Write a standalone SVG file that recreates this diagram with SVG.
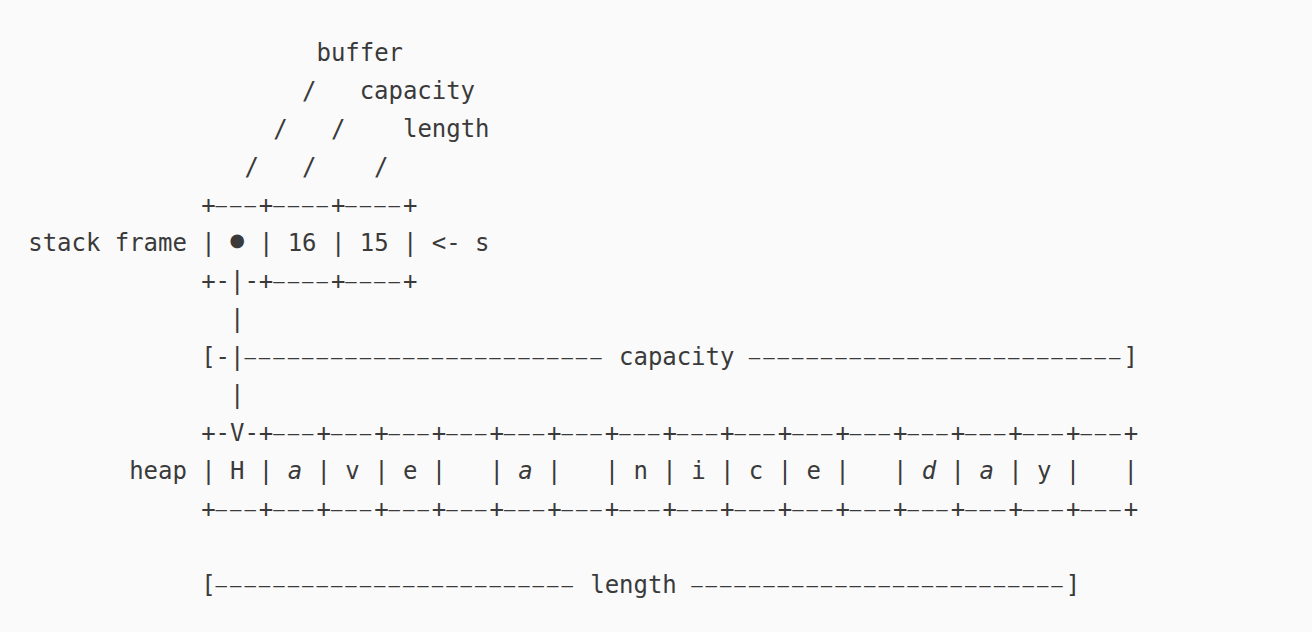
<svg xmlns="http://www.w3.org/2000/svg" width="1312" height="632" viewBox="0 0 1312 632" xml:space="preserve">
<style>
  text { font-family: "DejaVu Sans Mono", "Liberation Mono", monospace; font-size: 24px; letter-spacing: -0.04px; fill: #3a3a3a; white-space: pre; }
  .it { font-style: italic; }
  .d { font-size: 19px; letter-spacing: 2.97px; }
  .dot { letter-spacing: 0; stroke: #3a3a3a; stroke-width: 6.5px; stroke-linejoin: round; }
</style>
<rect x="0" y="0" width="1312" height="632" fill="#fafafa"/>
<g id="field-labels">
  <text x="316.5" y="61">buffer</text>
  <text x="359.7" y="99">capacity</text>
  <text x="403" y="137">length</text>
</g>
<g id="connectors">
  <text x="302.1" y="99">/</text>
  <text x="273.3" y="137">/   /</text>
  <text x="244.45" y="175">/   /    /</text>
  <text x="230" y="327">|</text>
  <text x="230" y="403">|</text>
</g>
<g id="stack-frame">
  <text x="201.2" y="213">+<tspan class="d" dy="-1.5">–––</tspan><tspan dy="1.5">+</tspan><tspan class="d" dy="-1.5">––––</tspan><tspan dy="1.5">+</tspan><tspan class="d" dy="-1.5">––––</tspan><tspan dy="1.5">+</tspan></text>
  <text x="28.3" y="251">stack frame |</text>
  <text class="dot" x="237.2" y="251" text-anchor="middle">•</text>
  <text x="258.9" y="251">| 16 | 15 | &lt;- s</text>
  <text x="201.2" y="289">+-|-+<tspan class="d" dy="-1.5">––––</tspan><tspan dy="1.5">+</tspan><tspan class="d" dy="-1.5">––––</tspan><tspan dy="1.5">+</tspan></text>
</g>
<g id="capacity-span">
  <text x="201.2" y="365">[-|<tspan class="d" dy="-1.5">–––––––––––––––––––––––––</tspan><tspan dy="1.5"> capacity </tspan><tspan class="d" dy="-1.5">––––––––––––––––––––––––––</tspan><tspan dy="1.5">]</tspan></text>
</g>
<g id="heap">
  <text x="201.2" y="441">+-V-+<tspan class="d" dy="-1.5">–––</tspan><tspan dy="1.5">+</tspan><tspan class="d" dy="-1.5">–––</tspan><tspan dy="1.5">+</tspan><tspan class="d" dy="-1.5">–––</tspan><tspan dy="1.5">+</tspan><tspan class="d" dy="-1.5">–––</tspan><tspan dy="1.5">+</tspan><tspan class="d" dy="-1.5">–––</tspan><tspan dy="1.5">+</tspan><tspan class="d" dy="-1.5">–––</tspan><tspan dy="1.5">+</tspan><tspan class="d" dy="-1.5">–––</tspan><tspan dy="1.5">+</tspan><tspan class="d" dy="-1.5">–––</tspan><tspan dy="1.5">+</tspan><tspan class="d" dy="-1.5">–––</tspan><tspan dy="1.5">+</tspan><tspan class="d" dy="-1.5">–––</tspan><tspan dy="1.5">+</tspan><tspan class="d" dy="-1.5">–––</tspan><tspan dy="1.5">+</tspan><tspan class="d" dy="-1.5">–––</tspan><tspan dy="1.5">+</tspan><tspan class="d" dy="-1.5">–––</tspan><tspan dy="1.5">+</tspan><tspan class="d" dy="-1.5">–––</tspan><tspan dy="1.5">+</tspan><tspan class="d" dy="-1.5">–––</tspan><tspan dy="1.5">+</tspan></text>
  <text x="129.2" y="479">heap | H | <tspan class="it">a</tspan> | v | e |   | <tspan class="it">a</tspan> |   | n | i | c | e |   | <tspan class="it">d</tspan> | <tspan class="it">a</tspan> | y |   |</text>
  <text x="201.2" y="517">+<tspan class="d" dy="-1.5">–––</tspan><tspan dy="1.5">+</tspan><tspan class="d" dy="-1.5">–––</tspan><tspan dy="1.5">+</tspan><tspan class="d" dy="-1.5">–––</tspan><tspan dy="1.5">+</tspan><tspan class="d" dy="-1.5">–––</tspan><tspan dy="1.5">+</tspan><tspan class="d" dy="-1.5">–––</tspan><tspan dy="1.5">+</tspan><tspan class="d" dy="-1.5">–––</tspan><tspan dy="1.5">+</tspan><tspan class="d" dy="-1.5">–––</tspan><tspan dy="1.5">+</tspan><tspan class="d" dy="-1.5">–––</tspan><tspan dy="1.5">+</tspan><tspan class="d" dy="-1.5">–––</tspan><tspan dy="1.5">+</tspan><tspan class="d" dy="-1.5">–––</tspan><tspan dy="1.5">+</tspan><tspan class="d" dy="-1.5">–––</tspan><tspan dy="1.5">+</tspan><tspan class="d" dy="-1.5">–––</tspan><tspan dy="1.5">+</tspan><tspan class="d" dy="-1.5">–––</tspan><tspan dy="1.5">+</tspan><tspan class="d" dy="-1.5">–––</tspan><tspan dy="1.5">+</tspan><tspan class="d" dy="-1.5">–––</tspan><tspan dy="1.5">+</tspan><tspan class="d" dy="-1.5">–––</tspan><tspan dy="1.5">+</tspan></text>
</g>
<g id="length-span">
  <text x="201.2" y="593">[<tspan class="d" dy="-1.5">–––––––––––––––––––––––––</tspan><tspan dy="1.5"> length </tspan><tspan class="d" dy="-1.5">––––––––––––––––––––––––––</tspan><tspan dy="1.5">]</tspan></text>
</g>
</svg>
